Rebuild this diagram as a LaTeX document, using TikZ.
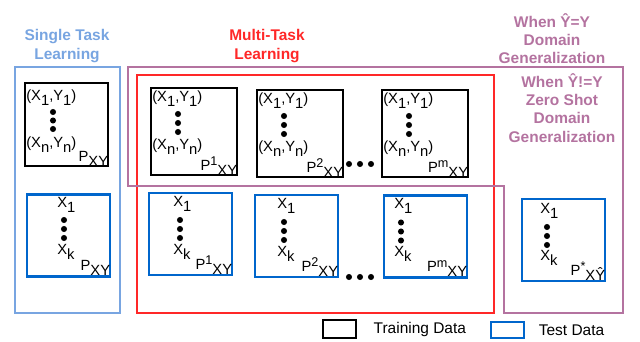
\documentclass[tikz,border=0pt]{standalone}
\usepackage{fontspec}
\setmainfont{Liberation Sans}
\usetikzlibrary{positioning}
\definecolor{stlblue}{RGB}{120,165,225}
\definecolor{mtlred}{RGB}{255,40,40}
\definecolor{dgpurple}{RGB}{180,115,160}
\definecolor{testblue}{RGB}{0,102,204}
\newcommand{\lo}[1]{\raisebox{-0.6ex}{#1}}
\newcommand{\hi}[1]{\raisebox{0.6ex}{\fontsize{9}{9}\selectfont #1}}
\tikzset{
  trainbox/.style={draw=black, line width=2pt, inner sep=0, minimum width=2.15cm, minimum height=2.175cm},
  testbox/.style={draw=testblue, line width=2pt, inner sep=0, minimum width=2.075cm, minimum height=2.05cm},
  boxtext/.style={font=\fontsize{10.5}{12.5}\selectfont, inner sep=0},
  vdot/.style={circle, fill=black, inner sep=0, minimum size=4.3pt},
  grouptitle/.style={font=\fontsize{11}{13}\selectfont\bfseries, align=center},
  legtext/.style={font=\fontsize{11}{13}\selectfont, inner sep=0}
}
\begin{document}
\begin{tikzpicture}[x=0.025cm, y=-0.025cm]
  \useasboundingbox (0,0) rectangle (640,342);
  % Group frames
  \node[draw=stlblue, line width=1.8pt, inner sep=0, minimum width=2.625cm, minimum height=6.15cm] (stl) at (67.5,190) {};
  \node[draw=mtlred, line width=1.8pt, inner sep=0, minimum width=8.925cm, minimum height=5.95cm] (mtl) at (315.5,194) {};
  \draw[dgpurple, line width=1.8pt] (128,67) -- (623,67) -- (623,313) -- (504,313) -- (504,186) -- (128,186) -- cycle;
  % Group titles
  \node[grouptitle, text=stlblue] (stltitle) at (67,46) {Single Task\\Learning};
  \node[grouptitle, text=mtlred] (mtltitle) at (267,46) {Multi-Task\\Learning};
  \node[grouptitle, text=dgpurple] (dgtitle) at (552,38.5) {When Ŷ=Y\\Domain\\Generalization};
  \node[grouptitle, text=dgpurple] (zstitle) at (562,108) {When Ŷ!=Y\\Zero Shot\\Domain\\Generalization};
  % Single task boxes
  \node[trainbox, minimum width=2.075cm, minimum height=2.075cm] (trS) at (66.5,124.5) {};
  \node[boxtext, anchor=north west] (trStop) at (26,90) {(X\lo{1},Y\lo{1})};
  \foreach \k in {112,120.5,129} \node[vdot] (trSdot\k) at (53,\k) {};
  \node[boxtext, anchor=north west] (trSbot) at (26,137) {(X\lo{n},Y\lo{n})};
  \node[boxtext, anchor=south east] (trSp) at ([shift={(-1,-1)}]trS.south east) {P\lo{XY}};
  \node[testbox] (teS) at (68.5,235.5) {};
  \node[boxtext, anchor=north west] (teStop) at (57,197) {X\lo{1}};
  \foreach \k in {220,229,238} \node[vdot] (teSdot\k) at (64,\k) {};
  \node[boxtext, anchor=north west] (teSbot) at (57,244) {X\lo{k}};
  \node[boxtext, anchor=south east] (teSp) at ([shift={(-1,-2)}]teS.south east) {P\lo{XY}};
  % Multi-task training boxes
  \foreach \n/\cx/\t/\s in {1/194/88/1, 2/300/90/2, m/425/90/m} {
    \node[trainbox] (tr\n) at (\cx,\t+43.5) {};
    \node[boxtext, anchor=north west] (trtop\n) at (\cx-42,\t+3) {(X\lo{1},Y\lo{1})};
    \foreach \k in {26,35,44} \node[vdot] (trdot\n\k) at (\cx-16,\t+\k) {};
    \node[boxtext, anchor=north west] (trbot\n) at (\cx-42,\t+51) {(X\lo{n},Y\lo{n})};
    \node[boxtext, anchor=south east] (trp\n) at ([shift={(-1,-1)}]tr\n.south east) {P\hi{\s}\lo{XY}};
  }
  % Multi-task test boxes
  \foreach \n/\cx/\cy/\xl/\s in {1/190.5/234/173/1, 2/296.5/236/277/2, m/425.5/236.5/394/m} {
    \node[testbox] (te\n) at (\cx,\cy) {};
    \node[boxtext, anchor=north west] (tetop\n) at (\xl,\cy-38) {X\lo{1}};
    \foreach \k in {-14,-5,4} \node[vdot] (tedot\n\k) at (\xl+7,\cy+\k) {};
    \node[boxtext, anchor=north west] (tebot\n) at (\xl,\cy+10) {X\lo{k}};
    \node[boxtext, anchor=south east] (tep\n) at ([shift={(-1,-2)}]te\n.south east) {P\hi{\s}\lo{XY}};
  }
  \foreach \x in {349,360,371} {
    \node[vdot] (trgap\x) at (\x,164) {};
    \node[vdot] (tegap\x) at (\x,277) {};
  }
  % Zero shot test box
  \node[testbox] (teZ) at (563.5,240) {};
  \node[boxtext, anchor=north west] (teZtop) at (540,203) {X\lo{1}};
  \foreach \k in {227,236,245} \node[vdot] (teZdot\k) at (547,\k) {};
  \node[boxtext, anchor=north west] (teZbot) at (540,250) {X\lo{k}};
  \node[boxtext, anchor=south east] (teZp) at ([shift={(-1,-2)}]teZ.south east) {P\hi{*}\lo{XŶ}};
  % Legend
  \node[draw=black, line width=2pt, inner sep=0, minimum width=0.825cm, minimum height=0.45cm] (legtrain) at (339.5,329) {};
  \node[legtext, right=0.4cm of legtrain] (legtraintext) {Training Data};
  \node[draw=testblue, line width=2pt, inner sep=0, minimum width=0.825cm, minimum height=0.4cm] (legtest) at (507.5,330) {};
  \node[legtext, right=0.33cm of legtest] (legtesttext) {Test Data};
\end{tikzpicture}
\end{document}
